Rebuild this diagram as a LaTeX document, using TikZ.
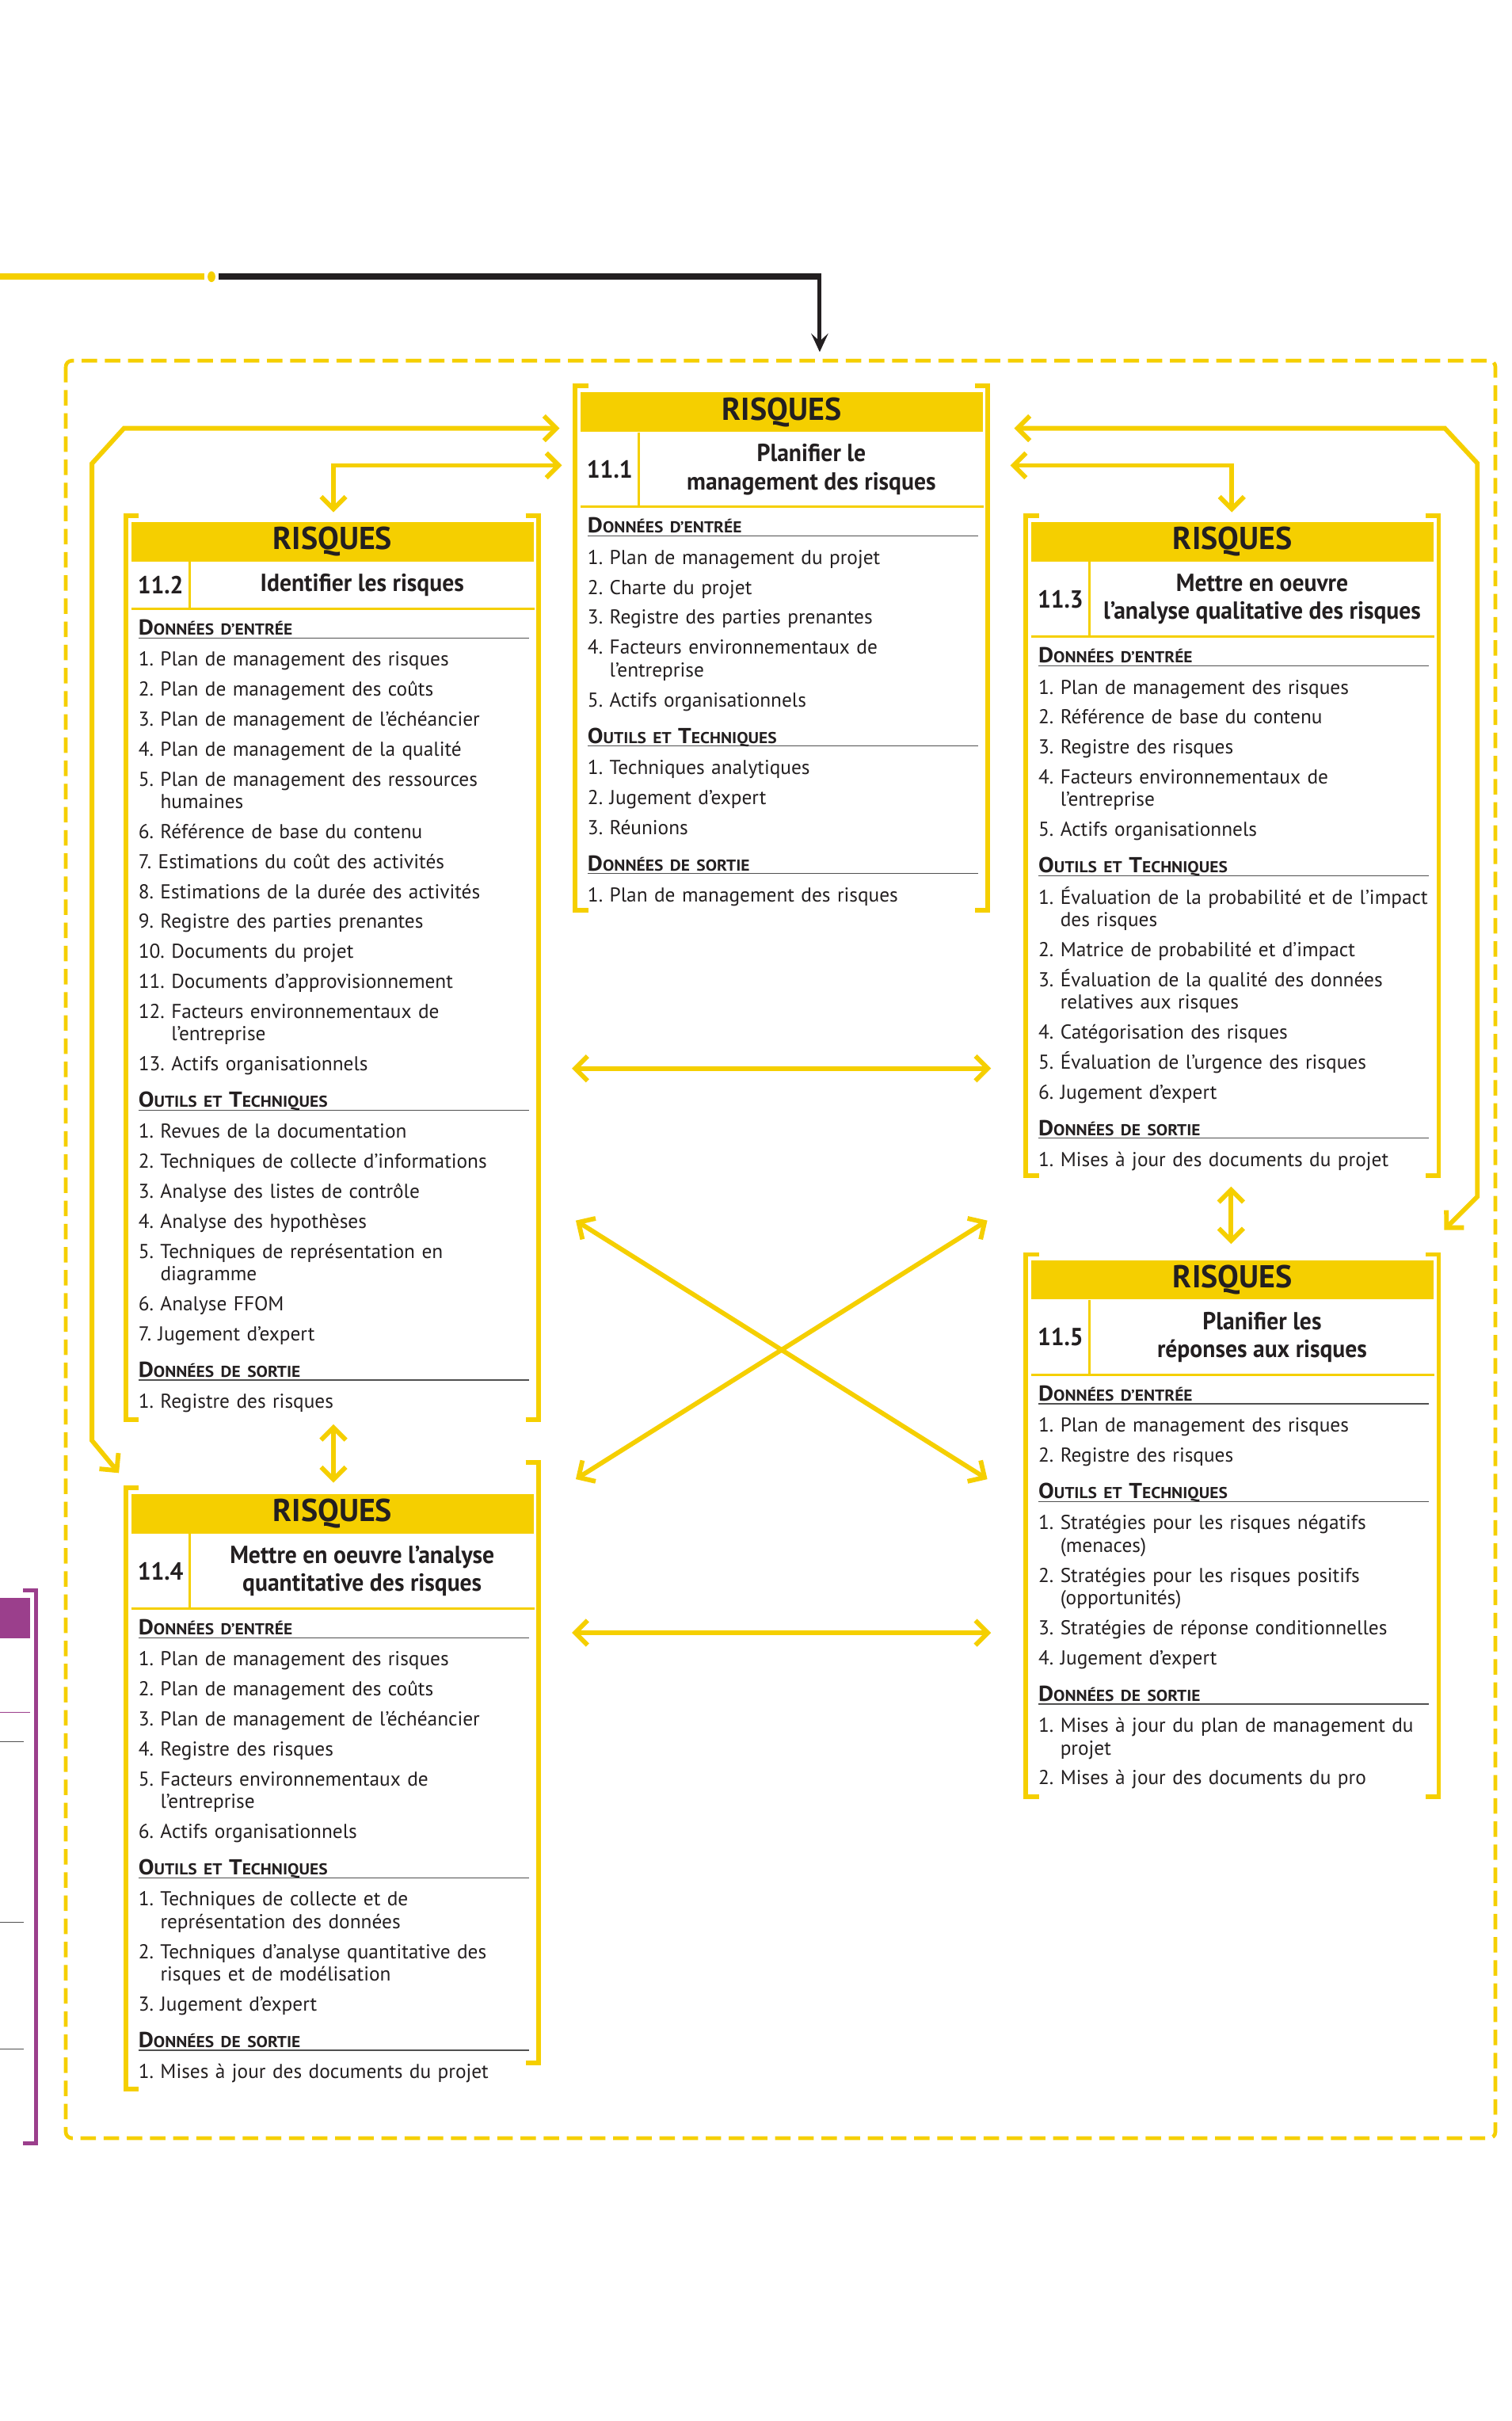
\documentclass[tikz,border=0pt]{standalone}
\usepackage{fontspec}
\setmainfont{PT Sans}
\newfontfamily\etroit{PT Sans}[FakeStretch=0.95]
\newfontfamily\rubfont{PT Sans}[FakeStretch=1.08]
\usetikzlibrary{arrows.meta,positioning,calc,shapes.geometric}

\definecolor{jaune}{RGB}{245,207,0}
\definecolor{encre}{RGB}{35,31,32}
\definecolor{prune}{RGB}{155,63,140}
\definecolor{trait}{RGB}{80,80,80}

% rubriques en petites capitales et lignes numerotees
\newcommand\grand[1]{{\fontsize{14}{14.6}\selectfont #1}}
\newcommand\rub[1]{\noindent\rlap{\smash{\color{trait}\rule[-2.2pt]{253pt}{0.6pt}}}%
  {\rubfont\bfseries\fontsize{10.2}{14.6}\selectfont #1}\par\vspace{0.8pt}}
\newcommand\sect[1]{\par\vspace{9pt}\rub{#1}}
\newcommand\ent[2]{\par\vspace{4.8pt}\setbox0\hbox{#1\ }%
  \hangindent\wd0 \hangafter1 \noindent\box0 #2\par}

\begin{document}
\begin{tikzpicture}[x=1pt,y=-1pt,
  entete/.style={fill=jaune,minimum width=260.5pt,minimum height=25.5pt,inner sep=0pt,
    anchor=north west,text=encre,font=\bfseries\fontsize{20.5}{22}\selectfont},
  numero/.style={minimum width=37.5pt,minimum height=#1,inner sep=0pt,text=encre,
    font=\etroit\bfseries\fontsize{16}{18}\selectfont},
  titre/.style={minimum width=223pt,minimum height=#1,inner sep=0pt,align=center,text=encre,
    font=\etroit\bfseries\fontsize{16}{18}\selectfont},
  filet/.style={draw=jaune,line width=1.6pt},
  corps/.style={text width=275pt,inner sep=0pt,anchor=base west,align=left,text=encre,
    font=\fontsize{13}{14.6}\selectfont},
  crochet/.style={draw=jaune,line width=3pt},
  fleche/.style={draw=jaune,line width=3pt,
    {Straight Barb[length=8pt,width=16pt]}-{Straight Barb[length=8pt,width=16pt]}},
  cadre/.style={draw=jaune,line width=2.4pt,dash pattern=on 10pt off 5pt,rounded corners=4pt}]

\fill[white] (0,0) rectangle (979,1568);
\useasboundingbox (0,0) rectangle (979,1568);

% arrivee depuis le processus precedent
\coordinate (depart) at (0,179.2);
\node[ellipse,fill=jaune,minimum width=5pt,minimum height=7pt,inner sep=0pt] (joint) at (137,179.2) {};
\coordinate (coude) at (531,179.2);
\coordinate (entree) at (531,228);
\draw[jaune,line width=4pt] (depart) -- ([xshift=-2pt]joint.west);
\draw[encre,line width=4pt] ([xshift=2pt]joint.east) -- ([xshift=1.3pt]coude);
\draw[encre,line width=2.6pt,-{Stealth[length=12pt,width=11pt,inset=5pt]}] (coude) -- (entree);

\draw[cadre] (42.6,233.6) rectangle (968.7,1384.8);

% fragment du processus voisin
\fill[prune] (0,1035) rectangle (19.3,1061);
\draw[prune,line width=0.8pt] (0,1109) -- (19.3,1109);
\foreach \y in {1128,1245,1327}
  \draw[trait,line width=0.4pt] (0,\y) -- (15.4,\y);
\draw[prune,line width=2.6pt] (15,1030) -| (23.3,1388) -- (15,1388);

% 11.1
\node[entete] (h1) at (376,254) {RISQUES};
\node[numero=48pt,below right=0pt of h1.south west] (n1) {11.1};
\node[titre=48pt,right=0pt of n1] (t1) {Planifier le\\management des risques};
\draw[filet] (n1.north east) -- (n1.south east);
\draw[filet] (n1.south west) -- (t1.south east);
\node[corps] (c1) at ($(n1.south west)+(4.5,17)$) {%
  \rub{\grand{D}ONNÉES D’ENTRÉE}
  \ent{1.}{Plan de management du projet}
  \ent{2.}{Charte du projet}
  \ent{3.}{Registre des parties prenantes}
  \ent{4.}{Facteurs environnementaux de\newline l’entreprise}
  \ent{5.}{Actifs organisationnels}
  \sect{\grand{O}UTILS ET \grand{T}ECHNIQUES}
  \ent{1.}{Techniques analytiques}
  \ent{2.}{Jugement d’expert}
  \ent{3.}{Réunions}
  \sect{\grand{D}ONNÉES DE SORTIE}
  \ent{1.}{Plan de management des risques}};
\draw[crochet] (381,250) -| (372.5,589.5) -- (381,589.5);
\draw[crochet] (631.5,250) -| (640,589.5) -- (631.5,589.5);

% 11.2
\node[entete] (h2) at (85,338) {RISQUES};
\node[numero=30pt,below right=0pt of h2.south west] (n2) {11.2};
\node[titre=30pt,right=0pt of n2] (t2) {Identifier les risques};
\draw[filet] (n2.north east) -- (n2.south east);
\draw[filet] (n2.south west) -- (t2.south east);
\node[corps] (c2) at ($(n2.south west)+(4.5,17)$) {%
  \rub{\grand{D}ONNÉES D’ENTRÉE}
  \ent{1.}{Plan de management des risques}
  \ent{2.}{Plan de management des coûts}
  \ent{3.}{Plan de management de l’échéancier}
  \ent{4.}{Plan de management de la qualité}
  \ent{5.}{Plan de management des ressources\newline humaines}
  \ent{6.}{Référence de base du contenu}
  \ent{7.}{Estimations du coût des activités}
  \ent{8.}{Estimations de la durée des activités}
  \ent{9.}{Registre des parties prenantes}
  \ent{10.}{Documents du projet}
  \ent{11.}{Documents d’approvisionnement}
  \ent{12.}{Facteurs environnementaux de\newline l’entreprise}
  \ent{13.}{Actifs organisationnels}
  \sect{\grand{O}UTILS ET \grand{T}ECHNIQUES}
  \ent{1.}{Revues de la documentation}
  \ent{2.}{Techniques de collecte d’informations}
  \ent{3.}{Analyse des listes de contrôle}
  \ent{4.}{Analyse des hypothèses}
  \ent{5.}{Techniques de représentation en\newline diagramme}
  \ent{6.}{Analyse FFOM}
  \ent{7.}{Jugement d’expert}
  \sect{\grand{D}ONNÉES DE SORTIE}
  \ent{1.}{Registre des risques}};
\draw[crochet] (90,334) -| (81.5,919.5) -- (90,919.5);
\draw[crochet] (340.5,334) -| (349,919.5) -- (340.5,919.5);

% 11.3
\node[entete] (h3) at (668,338) {RISQUES};
\node[numero=48pt,below right=0pt of h3.south west] (n3) {11.3};
\node[titre=48pt,right=0pt of n3] (t3) {Mettre en oeuvre\\l’analyse qualitative des risques};
\draw[filet] (n3.north east) -- (n3.south east);
\draw[filet] (n3.south west) -- (t3.south east);
\node[corps] (c3) at ($(n3.south west)+(4.5,17)$) {%
  \rub{\grand{D}ONNÉES D’ENTRÉE}
  \ent{1.}{Plan de management des risques}
  \ent{2.}{Référence de base du contenu}
  \ent{3.}{Registre des risques}
  \ent{4.}{Facteurs environnementaux de\newline l’entreprise}
  \ent{5.}{Actifs organisationnels}
  \sect{\grand{O}UTILS ET \grand{T}ECHNIQUES}
  \ent{1.}{Évaluation de la probabilité et de l’impact\newline des risques}
  \ent{2.}{Matrice de probabilité et d’impact}
  \ent{3.}{Évaluation de la qualité des données\newline relatives aux risques}
  \ent{4.}{Catégorisation des risques}
  \ent{5.}{Évaluation de l’urgence des risques}
  \ent{6.}{Jugement d’expert}
  \sect{\grand{D}ONNÉES DE SORTIE}
  \ent{1.}{Mises à jour des documents du projet}};
\draw[crochet] (673,334) -| (664.5,761.3) -- (673,761.3);
\draw[crochet] (923.5,334) -| (932,761.3) -- (923.5,761.3);

% 11.4
\node[entete] (h4) at (85,967.5) {RISQUES};
\node[numero=48pt,below right=0pt of h4.south west] (n4) {11.4};
\node[titre=48pt,right=0pt of n4] (t4) {Mettre en oeuvre l’analyse\\quantitative des risques};
\draw[filet] (n4.north east) -- (n4.south east);
\draw[filet] (n4.south west) -- (t4.south east);
\node[corps] (c4) at ($(n4.south west)+(4.5,17)$) {%
  \rub{\grand{D}ONNÉES D’ENTRÉE}
  \ent{1.}{Plan de management des risques}
  \ent{2.}{Plan de management des coûts}
  \ent{3.}{Plan de management de l’échéancier}
  \ent{4.}{Registre des risques}
  \ent{5.}{Facteurs environnementaux de\newline l’entreprise}
  \ent{6.}{Actifs organisationnels}
  \sect{\grand{O}UTILS ET \grand{T}ECHNIQUES}
  \ent{1.}{Techniques de collecte et de\newline représentation des données}
  \ent{2.}{Techniques d’analyse quantitative des\newline risques et de modélisation}
  \ent{3.}{Jugement d’expert}
  \sect{\grand{D}ONNÉES DE SORTIE}
  \ent{1.}{Mises à jour des documents du projet}};
\draw[crochet] (90,963.5) -| (81.5,1353) -- (90,1353);
\draw[crochet] (340.5,947.2) -| (349,1336.1) -- (340.5,1336.1);

% 11.5
\node[entete] (h5) at (668,816) {RISQUES};
\node[numero=48pt,below right=0pt of h5.south west] (n5) {11.5};
\node[titre=48pt,right=0pt of n5] (t5) {Planifier les\\réponses aux risques};
\draw[filet] (n5.north east) -- (n5.south east);
\draw[filet] (n5.south west) -- (t5.south east);
\node[corps] (c5) at ($(n5.south west)+(4.5,17)$) {%
  \rub{\grand{D}ONNÉES D’ENTRÉE}
  \ent{1.}{Plan de management des risques}
  \ent{2.}{Registre des risques}
  \sect{\grand{O}UTILS ET \grand{T}ECHNIQUES}
  \ent{1.}{Stratégies pour les risques négatifs\newline (menaces)}
  \ent{2.}{Stratégies pour les risques positifs\newline (opportunités)}
  \ent{3.}{Stratégies de réponse conditionnelles}
  \ent{4.}{Jugement d’expert}
  \sect{\grand{D}ONNÉES DE SORTIE}
  \ent{1.}{Mises à jour du plan de management du\newline projet}
  \ent{2.}{Mises à jour des documents du pro}};
\draw[crochet] (673,812.5) -| (664.5,1163.8) -- (673,1163.8);
\draw[crochet] (923.5,812.5) -| (932,1163.8) -- (923.5,1163.8);

% liaisons entre processus
\coordinate (a1) at (362.5,277.4);
\coordinate (a2) at (80.3,277.4);
\coordinate (a3) at (59.6,300.2);
\coordinate (a4) at (59.6,933);
\coordinate (a5) at (77,954);
\coordinate (b1) at (364,301.4);
\coordinate (b2) at (216,301.4);
\coordinate (b3) at (216,331.8);
\coordinate (d1) at (657,277.4);
\coordinate (d2) at (936,277.4);
\coordinate (d3) at (957,300);
\coordinate (d4) at (957,775);
\coordinate (d5) at (935.5,796.6);
\coordinate (e1) at (654.5,301.4);
\coordinate (e2) at (798,301.4);
\coordinate (e3) at (798,331.8);
\draw[fleche] (a1) -- (a2) -- (a3) -- (a4) -- (a5);
\draw[fleche] (b1) -- (b2) -- (b3);
\draw[fleche] (d1) -- (d2) -- (d3) -- (d4) -- (d5);
\draw[fleche] (e1) -- (e2) -- (e3);
\draw[fleche] (370.5,692) -- (642,692);
\draw[fleche] (370.5,1057.5) -- (642,1057.5);
\draw[fleche] (216,922.5) -- (216,960.3);
\draw[fleche] (797.5,768.5) -- (797.5,805.7);
\draw[fleche] (373,790.5) -- (639.6,958);
\draw[fleche] (373,958) -- (639.6,790.5);
\end{tikzpicture}
\end{document}
